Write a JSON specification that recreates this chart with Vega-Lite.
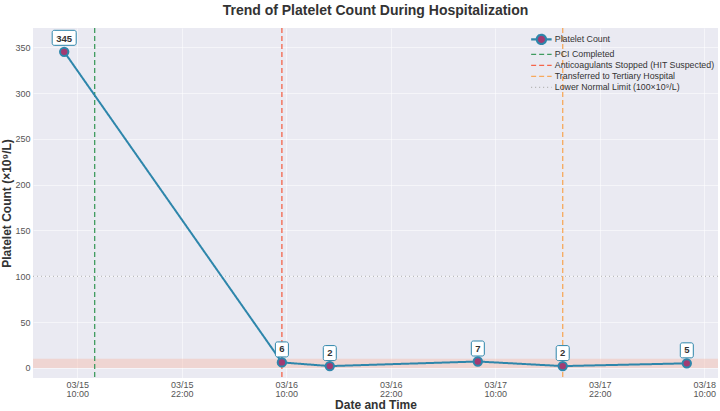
{
  "$schema": "https://vega.github.io/schema/vega-lite/v6.json",
  "width": 685,
  "height": 350,
  "autosize": {"type": "none"},
  "padding": {"left": 33, "top": 28, "right": 2, "bottom": 33},
  "background": "white",
  "config": {
    "font": "Liberation Sans",
    "view": {"fill": "#eaeaf2", "stroke": null},
    "axis": {
      "domain": false,
      "ticks": false,
      "labelColor": "#555555",
      "labelFontSize": 9,
      "labelFont": "Liberation Sans",
      "gridColor": "#ffffff",
      "gridOpacity": 0.5,
      "gridWidth": 1,
      "titleFont": "Liberation Sans",
      "titleFontWeight": "bold",
      "titleFontSize": 12,
      "titleColor": "#333333"
    }
  },
  "title": {
    "text": "Trend of Platelet Count During Hospitalization",
    "fontSize": 14,
    "fontWeight": "bold",
    "color": "#333333",
    "anchor": "middle",
    "offset": 9,
    "font": "Liberation Sans"
  },
  "datasets": {
    "counts": [
      {"time": "2024-03-15T08:30:00", "value": 345, "label": "345", "series": "Platelet Count"},
      {"time": "2024-03-16T09:30:00", "value": 6, "label": "6", "series": "Platelet Count"},
      {"time": "2024-03-16T15:00:00", "value": 2, "label": "2", "series": "Platelet Count"},
      {"time": "2024-03-17T08:00:00", "value": 7, "label": "7", "series": "Platelet Count"},
      {"time": "2024-03-17T17:45:00", "value": 2, "label": "2", "series": "Platelet Count"},
      {"time": "2024-03-18T08:00:00", "value": 5, "label": "5", "series": "Platelet Count"}
    ],
    "events": [
      {"time": "2024-03-15T12:00:00", "series": "PCI Completed"},
      {"time": "2024-03-16T09:30:00", "series": "Anticoagulants Stopped (HIT Suspected)"},
      {"time": "2024-03-17T17:45:00", "series": "Transferred to Tertiary Hospital"}
    ],
    "limit": [
      {"level": 100, "series": "Lower Normal Limit (100×10⁹/L)"}
    ],
    "band": [
      {"lo": 0, "hi": 10}
    ]
  },
  "layer": [
    {
      "data": {"name": "band"},
      "mark": {"type": "rect", "fill": "#f5b7a8", "opacity": 0.42},
      "encoding": {
        "y": {"field": "lo", "type": "quantitative", "scale": {"domain": [-11, 371], "nice": false, "zero": false},
          "axis": {"values": [0, 50, 100, 150, 200, 250, 300, 350], "labelPadding": 3, "titlePadding": 1, "title": "Platelet Count (×10⁹/L)"}},
        "y2": {"field": "hi"}
      }
    },
    {
      "data": {"name": "limit"},
      "mark": {"type": "rule", "strokeWidth": 1},
      "encoding": {
        "y": {"field": "level", "type": "quantitative"},
        "color": {"field": "series", "type": "nominal"},
        "strokeDash": {"field": "series", "type": "nominal"}
      }
    },
    {
      "data": {"name": "events"},
      "mark": {"type": "rule", "strokeWidth": 1.3},
      "encoding": {
        "x": {"field": "time", "type": "temporal"},
        "color": {"field": "series", "type": "nominal"},
        "strokeDash": {"field": "series", "type": "nominal"}
      }
    },
    {
      "data": {"name": "counts"},
      "mark": {"type": "line", "strokeWidth": 2},
      "encoding": {
        "x": {
          "field": "time", "type": "temporal",
          "scale": {"domain": [
            {"year": 2024, "month": 3, "date": 15, "hours": 4, "minutes": 55},
            {"year": 2024, "month": 3, "date": 18, "hours": 11, "minutes": 35}
          ]},
          "axis": {
            "title": "Date and Time",
            "values": [
              {"year": 2024, "month": 3, "date": 15, "hours": 10},
              {"year": 2024, "month": 3, "date": 15, "hours": 22},
              {"year": 2024, "month": 3, "date": 16, "hours": 10},
              {"year": 2024, "month": 3, "date": 16, "hours": 22},
              {"year": 2024, "month": 3, "date": 17, "hours": 10},
              {"year": 2024, "month": 3, "date": 17, "hours": 22},
              {"year": 2024, "month": 3, "date": 18, "hours": 10}
            ],
            "labelExpr": "[timeFormat(datum.value, '%m/%d'), timeFormat(datum.value, '%H:%M')]",
            "labelPadding": 2,
            "labelLineHeight": 9.5,
            "titlePadding": 1
          }
        },
        "y": {"field": "value", "type": "quantitative"},
        "color": {
          "field": "series", "type": "nominal",
          "scale": {
            "domain": ["Platelet Count", "PCI Completed", "Anticoagulants Stopped (HIT Suspected)", "Transferred to Tertiary Hospital", "Lower Normal Limit (100×10⁹/L)"],
            "range": ["#2E86AB", "#3f9b5f", "#f5654a", "#f7a95c", "#b0b0b0"]
          },
          "legend": {
            "title": null,
            "orient": "none",
            "legendX": 504,
            "legendY": 7,
            "padding": 0,
            "symbolType": "stroke",
            "symbolSize": 420,
            "symbolStrokeWidth": 1.3,
            "labelFontSize": 8.8,
            "labelColor": "#333333",
            "labelOffset": 9,
            "labelLimit": 300,
            "rowPadding": 1,
            "encode": {
              "symbols": {
                "update": {
                  "shape": {"signal": "datum.value === 'Platelet Count' ? 'M-1,0L-0.45,0M0.45,0L1,0M0.45,0C0.45,0.2485 0.2485,0.45 0,0.45C-0.2485,0.45 -0.45,0.2485 -0.45,0C-0.45,-0.2485 -0.2485,-0.45 0,-0.45C0.2485,-0.45 0.45,-0.2485 0.45,0Z' : 'stroke'"},
                  "fill": {"signal": "datum.value === 'Platelet Count' ? '#A23B72' : 'transparent'"},
                  "strokeWidth": {"signal": "datum.value === 'Platelet Count' ? 2.2 : 1.3"}
                }
              }
            }
          }
        },
        "strokeDash": {
          "field": "series", "type": "nominal",
          "scale": {
            "domain": ["Platelet Count", "PCI Completed", "Anticoagulants Stopped (HIT Suspected)", "Transferred to Tertiary Hospital", "Lower Normal Limit (100×10⁹/L)"],
            "range": [[1, 0], [5, 3], [5, 3], [5, 3], [1, 3]]
          }
        }
      }
    },
    {
      "data": {"name": "counts"},
      "mark": {"type": "point", "shape": "circle", "filled": true, "fill": "#A23B72", "stroke": "#2E86AB", "strokeWidth": 2, "size": 70, "opacity": 1},
      "encoding": {
        "x": {"field": "time", "type": "temporal"},
        "y": {"field": "value", "type": "quantitative"}
      }
    },
    {
      "data": {"name": "counts"},
      "transform": [{"filter": "datum.value < 100"}],
      "mark": {"type": "point", "shape": "M-4.5,-7.5L4.5,-7.5A2,2 0 0 1 6.5,-5.5L6.5,5.5A2,2 0 0 1 4.5,7.5L-4.5,7.5A2,2 0 0 1 -6.5,5.5L-6.5,-5.5A2,2 0 0 1 -4.5,-7.5Z", "size": 4, "filled": true, "fill": "#ffffff", "stroke": "#2E86AB", "strokeWidth": 1, "opacity": 1, "yOffset": -13},
      "encoding": {
        "x": {"field": "time", "type": "temporal"},
        "y": {"field": "value", "type": "quantitative"}
      }
    },
    {
      "data": {"name": "counts"},
      "transform": [{"filter": "datum.value >= 100"}],
      "mark": {"type": "point", "shape": "M-10,-7.5L10,-7.5A2,2 0 0 1 12,-5.5L12,5.5A2,2 0 0 1 10,7.5L-10,7.5A2,2 0 0 1 -12,5.5L-12,-5.5A2,2 0 0 1 -10,-7.5Z", "size": 4, "filled": true, "fill": "#ffffff", "stroke": "#2E86AB", "strokeWidth": 1, "opacity": 1, "yOffset": -14},
      "encoding": {
        "x": {"field": "time", "type": "temporal"},
        "y": {"field": "value", "type": "quantitative"}
      }
    },
    {
      "data": {"name": "counts"},
      "mark": {"type": "text", "fontWeight": "bold", "fontSize": 9.5, "color": "#333333", "baseline": "middle", "align": "center", "yOffset": -13},
      "encoding": {
        "x": {"field": "time", "type": "temporal"},
        "y": {"field": "value", "type": "quantitative"},
        "text": {"field": "label", "type": "nominal"}
      }
    }
  ]
}
